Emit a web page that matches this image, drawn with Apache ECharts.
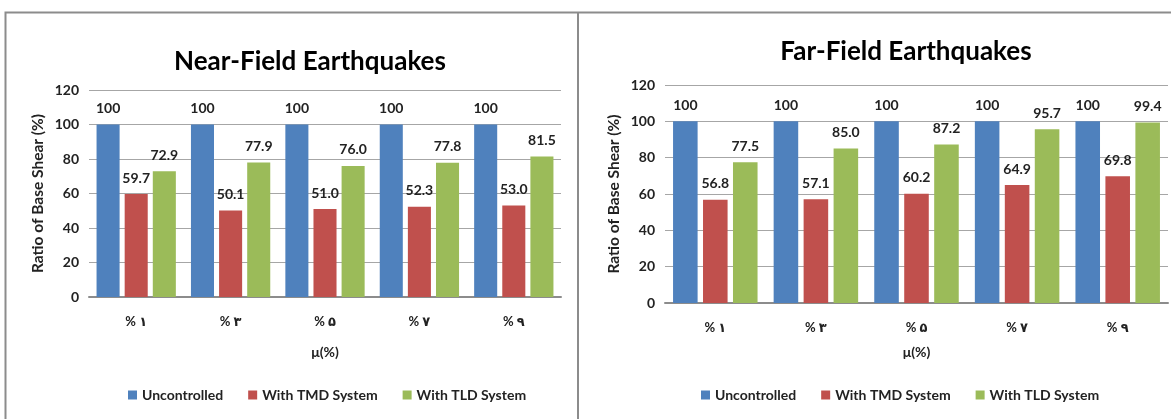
<!DOCTYPE html>
<html>
<head>
<meta charset="utf-8">
<script src="https://cdn.jsdelivr.net/npm/echarts@6/dist/echarts.min.js"></script>
<style>
html,body{margin:0;padding:0;background:#fff;}
#chart{width:1171px;height:419px;}
</style>
</head>
<body>
<div id="chart"></div>
<script>
const categories = ['% ۱', '% ۳', '% ۵', '% ۷', '% ۹'];
const seriesNames = ['Uncontrolled', 'With TMD System', 'With TLD System'];
const nearUncontrolled = [100, 100, 100, 100, 100];
const nearTMD = [59.7, 50.1, 51.0, 52.3, 53.0];
const nearTLD = [72.9, 77.9, 76.0, 77.8, 81.5];
const farUncontrolled = [100, 100, 100, 100, 100];
const farTMD = [56.8, 57.1, 60.2, 64.9, 69.8];
const farTLD = [77.5, 85.0, 87.2, 95.7, 99.4];
const yTicks = [0, 20, 40, 60, 80, 100, 120];

const colors = ['#4f81bd', '#c0504d', '#9bbb59'];
const FONT = 'Lato, "DejaVu Sans", sans-serif';

function labelCfg(decimals) {
  return {
    show: true, position: 'top', distance: 9,
    fontFamily: FONT, fontSize: 14, fontWeight: 'bold', color: '#222',
    formatter: p => decimals ? p.value.toFixed(1) : String(p.value)
  };
}

function makeSeries(gridIdx, data, i, decimals) {
  return {
    name: seriesNames[i], type: 'bar', xAxisIndex: gridIdx, yAxisIndex: gridIdx,
    data: data, itemStyle: { color: colors[i] },
    barGap: '22%', barCategoryGap: '16%',
    label: labelCfg(decimals), animation: false
  };
}

function xAxisCfg(gridIdx, nameGap) {
  return {
    type: 'category', gridIndex: gridIdx, data: categories,
    axisTick: { show: false },
    axisLine: { lineStyle: { color: '#8c8c8c', width: 2 } },
    axisLabel: { fontFamily: FONT, fontSize: 13, fontWeight: 'bold', color: '#222', margin: 18 },
    name: 'μ(%)', nameLocation: 'middle', nameGap: nameGap,
    nameTextStyle: { fontFamily: FONT, fontSize: 14, fontWeight: 'bold', color: '#222' }
  };
}

function yAxisCfg(gridIdx) {
  return {
    type: 'value', gridIndex: gridIdx, min: yTicks[0], max: yTicks[yTicks.length - 1], interval: 20,
    axisLine: { show: false }, axisTick: { show: false },
    splitLine: { lineStyle: { color: '#a6a6a6', width: 1 } },
    axisLabel: { fontFamily: FONT, fontSize: 14, fontWeight: 'bold', color: '#222', margin: 10 },
    name: 'Ratio of Base Shear (%)', nameLocation: 'middle', nameGap: 43,
    nameTextStyle: { fontFamily: FONT, fontSize: 15.5, fontWeight: 'bold', color: '#222' }
  };
}

const legendText = { fontFamily: FONT, fontSize: 14, fontWeight: 'bold', color: '#222' };

const option = {
  backgroundColor: '#fff',
  animation: false,
  title: [
    { text: 'Near-Field Earthquakes', left: 305, top: 44, textAlign: 'center',
      textStyle: { fontFamily: FONT, fontSize: 26, fontWeight: 'bold', color: '#000' } },
    { text: 'Far-Field Earthquakes', left: 901, top: 34, textAlign: 'center',
      textStyle: { fontFamily: FONT, fontSize: 26, fontWeight: 'bold', color: '#000' } }
  ],
  legend: [
    { data: seriesNames, left: 123, top: 383, itemWidth: 9, itemHeight: 9, itemGap: 25,
      icon: 'rect', textStyle: legendText },
    { data: seriesNames, left: 696, top: 383, itemWidth: 9, itemHeight: 9, itemGap: 25,
      icon: 'rect', textStyle: legendText }
  ],
  grid: [
    { left: 89, top: 90, width: 472, height: 207 },
    { left: 665, top: 85, width: 503, height: 218 }
  ],
  xAxis: [xAxisCfg(0, 48), xAxisCfg(1, 42)],
  yAxis: [yAxisCfg(0), yAxisCfg(1)],
  series: [
    makeSeries(0, nearUncontrolled, 0, false),
    makeSeries(0, nearTMD, 1, true),
    makeSeries(0, nearTLD, 2, true),
    makeSeries(1, farUncontrolled, 0, false),
    makeSeries(1, farTMD, 1, true),
    makeSeries(1, farTLD, 2, true)
  ],
  graphic: [
    { type: 'polyline', silent: true, shape: { points: [[5.5, 430], [5.5, 12.5], [1171, 12.5]] },
      style: { stroke: '#8c8c8c', lineWidth: 2, fill: null } },
    { type: 'line', silent: true, shape: { x1: 578, y1: 12.5, x2: 578, y2: 430 },
      style: { stroke: '#8c8c8c', lineWidth: 2 } }
  ]
};

const chart = echarts.init(document.getElementById('chart'), null, { renderer: 'canvas' });
chart.setOption(option);
</script>
</body>
</html>
